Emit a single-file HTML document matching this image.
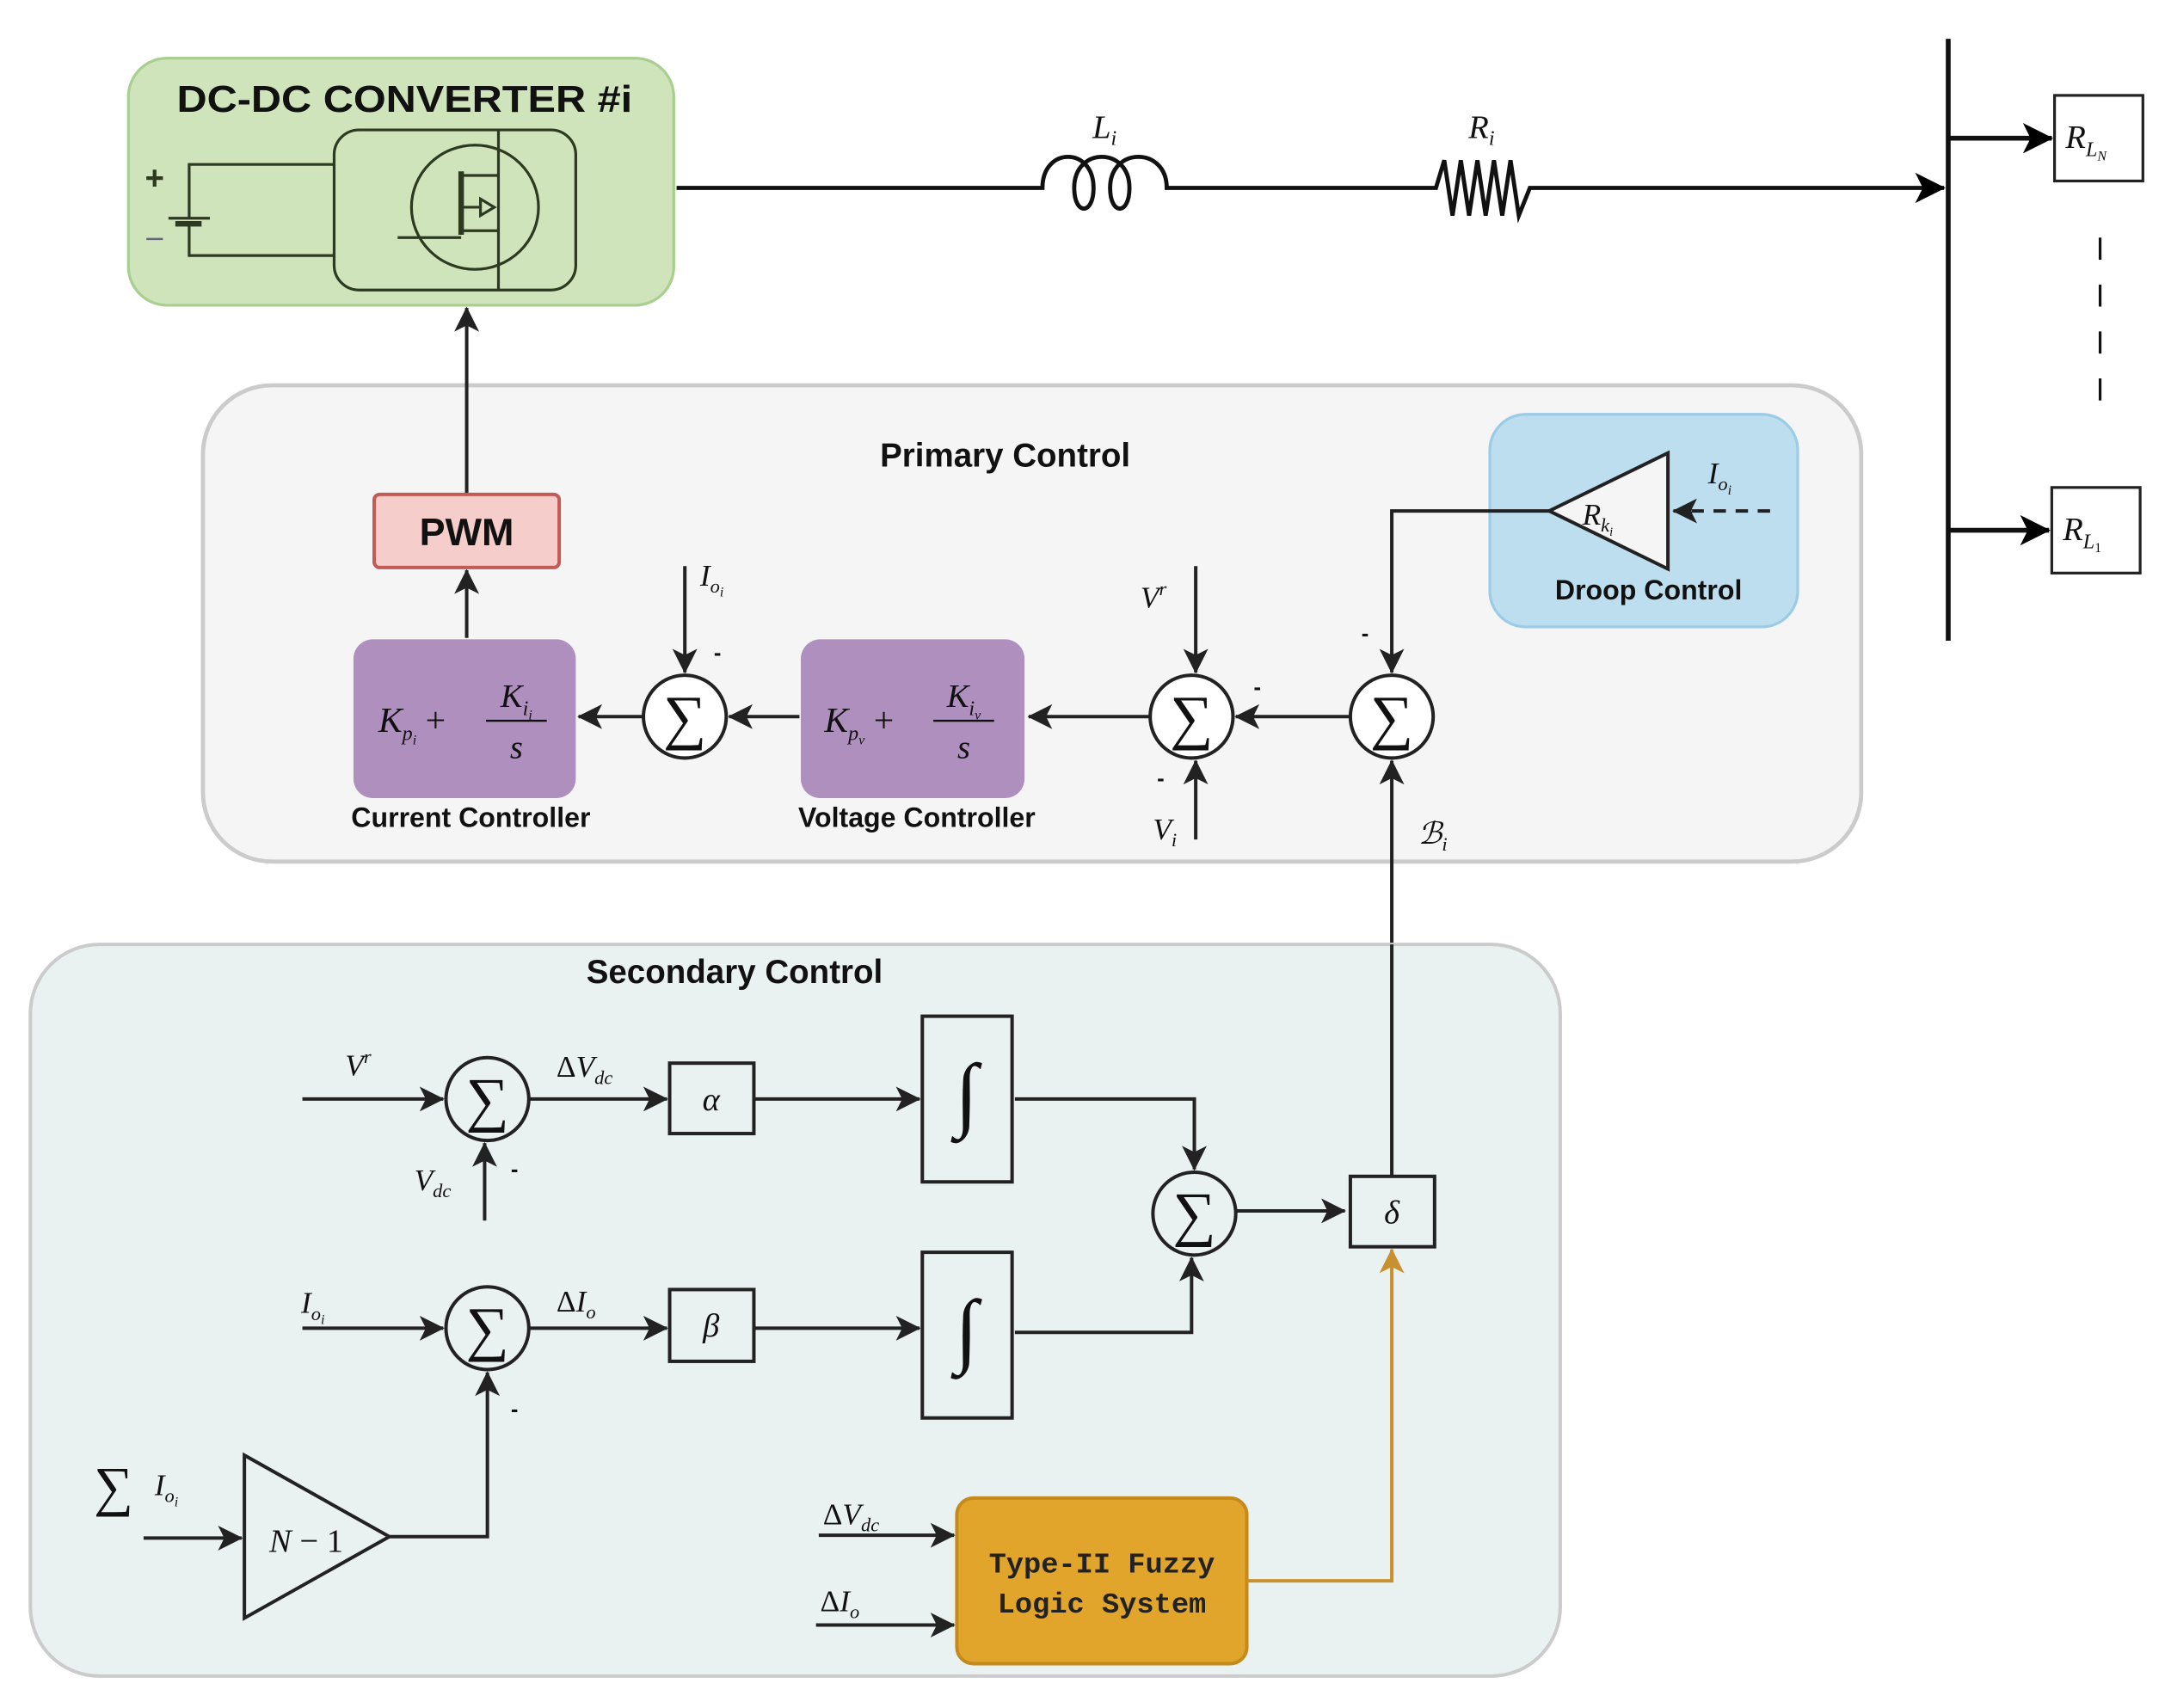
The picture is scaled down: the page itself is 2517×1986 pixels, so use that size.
<!DOCTYPE html>
<html><head><meta charset="utf-8"><style>
html,body{margin:0;padding:0;background:#fff;}
svg{display:block;}
.b{font-family:"Liberation Sans",sans-serif;font-weight:bold;fill:#111;}
.m{font-family:"Liberation Serif",serif;font-style:italic;fill:#111;}
.s{font-family:"Liberation Serif",serif;fill:#111;}
.ln{stroke:#222;stroke-width:2.5;fill:none;}
</style></head><body>
<svg width="2517" height="1986" viewBox="0 0 1568 1237" xmlns="http://www.w3.org/2000/svg">
<defs>
<marker id="a" viewBox="0 0 20 20" refX="19" refY="10" markerWidth="20" markerHeight="18" markerUnits="userSpaceOnUse" orient="auto"><path d="M0,0 L20,10 L0,20 L5,10 Z" fill="#222"/></marker>
<marker id="a2" viewBox="0 0 20 20" refX="19" refY="10" markerWidth="24" markerHeight="22" markerUnits="userSpaceOnUse" orient="auto"><path d="M0,0 L20,10 L0,20 L5,10 Z" fill="#000"/></marker>
<marker id="ao" viewBox="0 0 20 20" refX="19" refY="10" markerWidth="20" markerHeight="18" markerUnits="userSpaceOnUse" orient="auto"><path d="M0,0 L20,10 L0,20 L5,10 Z" fill="#c8902e"/></marker>
</defs>

<!-- DC-DC converter -->
<rect x="93" y="42" width="395" height="179" rx="28" fill="#d0e4bb" stroke="#a8cf90" stroke-width="2"/>
<text x="293" y="81" class="b" font-size="27" text-anchor="middle" textLength="330" lengthAdjust="spacingAndGlyphs">DC-DC CONVERTER #i</text>
<rect x="242" y="94" width="175" height="116" rx="18" fill="none" stroke="#2c3a22" stroke-width="2"/>
<ellipse cx="344" cy="150" rx="46" ry="45" fill="none" stroke="#2c3a22" stroke-width="2"/>
<path d="M242,119 H137 V158 M242,185 H137 V160 M122,158 H152" stroke="#2c3a22" stroke-width="2" fill="none"/>
<rect x="127" y="160" width="19" height="4" fill="#2c3a22"/>
<text x="105" y="137" font-family="Liberation Sans" font-weight="bold" font-size="24" fill="#2c3a22">+</text>
<path d="M106,173 H118" stroke="#667" stroke-width="1.5"/>
<path d="M361,94 V210 M361,108 V127 H335 M335,124 V170 M333,124 V170 M288,172 H334 M335,167 H360 M335,150 H348 M348,144 L358,150 L348,156 Z" stroke="#2c3a22" stroke-width="2" fill="none"/>

<!-- power line -->
<path d="M490,136 H755 C755,106 792,106 792,136 C792,156 778,156 778,136 C778,106 818,106 818,136 C818,156 804,156 804,136 C804,106 845,106 845,136 H1040 L1046,116 L1052,156 L1058,116 L1064,156 L1070,116 L1076,156 L1082,116 L1088,156 L1094,116 L1100,156 L1108,136 H1408" stroke="#111" stroke-width="3" fill="none" marker-end="url(#a2)"/>
<text x="800" y="100" class="m" font-size="24" text-anchor="middle">L<tspan font-size="15" dy="5">i</tspan></text>
<text x="1073" y="100" class="m" font-size="24" text-anchor="middle">R<tspan font-size="15" dy="5">i</tspan></text>

<!-- bus -->
<path d="M1411,28 V464" stroke="#111" stroke-width="3.5"/>
<path d="M1411,100 H1486" stroke="#111" stroke-width="3.5" marker-end="url(#a2)"/>
<path d="M1411,384 H1484" stroke="#111" stroke-width="3.5" marker-end="url(#a2)"/>
<rect x="1488" y="69" width="64" height="62" fill="#fff" stroke="#222" stroke-width="2"/>
<rect x="1486" y="353" width="64" height="62" fill="#fff" stroke="#222" stroke-width="2"/>
<text x="1496" y="107" class="m" font-size="24">R<tspan font-size="15" dy="6">L</tspan><tspan font-size="10" dy="3">N</tspan></text>
<text x="1494" y="391" class="m" font-size="24">R<tspan font-size="15" dy="6">L</tspan><tspan font-size="10" dy="3" font-style="normal">1</tspan></text>
<path d="M1521,172 V308" stroke="#111" stroke-width="2" stroke-dasharray="16,18"/>

<!-- Primary control -->
<rect x="147" y="279" width="1201" height="345" rx="50" fill="#f5f5f5" stroke="#cbcbcb" stroke-width="3"/>
<text x="728" y="338" class="b" font-size="24" text-anchor="middle">Primary Control</text>
<path d="M338,357 V223" class="ln" marker-end="url(#a)"/>
<rect x="271" y="358" width="134" height="53" rx="4" fill="#f5cdcb" stroke="#c25a55" stroke-width="2.5"/>
<text x="338" y="395" class="b" font-size="28" text-anchor="middle">PWM</text>
<path d="M338,462 V413" class="ln" marker-end="url(#a)"/>

<rect x="256" y="463" width="161" height="115" rx="14" fill="#ae8fbe"/>
<text x="274" y="530" class="m" font-size="26">K<tspan font-size="15" dy="6">p</tspan><tspan font-size="10" dy="3">i</tspan><tspan font-style="normal" dy="-9"> + </tspan></text>
<text x="374" y="512" class="m" font-size="24" text-anchor="middle">K<tspan font-size="15" dy="6">i</tspan><tspan font-size="10" dy="3">i</tspan></text>
<path d="M352,522 H396" stroke="#111" stroke-width="1.5"/>
<text x="374" y="549" class="m" font-size="24" text-anchor="middle">s</text>
<text x="341" y="599" class="b" font-size="20" text-anchor="middle">Current Controller</text>

<rect x="580" y="463" width="162" height="115" rx="14" fill="#ae8fbe"/>
<text x="597" y="530" class="m" font-size="26">K<tspan font-size="15" dy="6">p</tspan><tspan font-size="10" dy="3">v</tspan><tspan font-style="normal" dy="-9"> + </tspan></text>
<text x="698" y="512" class="m" font-size="24" text-anchor="middle">K<tspan font-size="15" dy="6">i</tspan><tspan font-size="10" dy="3">v</tspan></text>
<path d="M676,522 H720" stroke="#111" stroke-width="1.5"/>
<text x="698" y="549" class="m" font-size="24" text-anchor="middle">s</text>
<text x="664" y="599" class="b" font-size="20" text-anchor="middle">Voltage Controller</text>

<g fill="#fff" stroke="#222" stroke-width="2.5">
<circle cx="496" cy="519" r="30"/><circle cx="863" cy="519" r="30"/><circle cx="1008" cy="519" r="30"/>
</g>
<g class="s" font-size="44" text-anchor="middle">
<text x="496" y="534">∑</text><text x="863" y="534">∑</text><text x="1008" y="534">∑</text>
</g>
<path d="M466,519 H419" class="ln" marker-end="url(#a)"/>
<path d="M579,519 H528" class="ln" marker-end="url(#a)"/>
<path d="M833,519 H745" class="ln" marker-end="url(#a)"/>
<path d="M978,519 H895" class="ln" marker-end="url(#a)"/>
<path d="M496,410 V487" class="ln" marker-end="url(#a)"/>
<text x="507" y="424" class="m" font-size="22">I<tspan font-size="14" dy="5">o</tspan><tspan font-size="10" dy="3">i</tspan></text>
<text x="517" y="478" class="b" font-size="16">-</text>
<path d="M866,410 V487" class="ln" marker-end="url(#a)"/>
<text x="826" y="440" class="m" font-size="22">V<tspan font-size="14" dy="-9">r</tspan></text>
<path d="M866,608 V551" class="ln" marker-end="url(#a)"/>
<text x="835" y="608" class="m" font-size="22">V<tspan font-size="14" dy="5">i</tspan></text>
<text x="838" y="569" class="b" font-size="16">-</text>
<text x="908" y="503" class="b" font-size="16">-</text>
<path d="M1008,684 V551" class="ln" marker-end="url(#a)"/>
<text x="1027" y="611" class="m" font-size="22">ℬ<tspan font-size="14" dy="5">i</tspan></text>

<!-- Droop -->
<rect x="1079" y="300" width="223" height="154" rx="26" fill="#bcdeef" stroke="#9ccbe6" stroke-width="2"/>
<path d="M1208,328 V412 L1122,370 Z" fill="#f5f5f5" stroke="#222" stroke-width="2.5"/>
<text x="1146" y="380" class="m" font-size="22">R<tspan font-size="14" dy="5">k</tspan><tspan font-size="9" dy="3">i</tspan></text>
<text x="1194" y="434" class="b" font-size="20" text-anchor="middle">Droop Control</text>
<path d="M1282,370 H1212" stroke="#222" stroke-width="2.5" stroke-dasharray="9,7" marker-end="url(#a)"/>
<text x="1237" y="350" class="m" font-size="22">I<tspan font-size="14" dy="5">o</tspan><tspan font-size="10" dy="3">i</tspan></text>
<path d="M1122,370 H1008 V487" class="ln" marker-end="url(#a)"/>
<text x="986" y="464" class="b" font-size="16">-</text>

<!-- Secondary -->
<rect x="22" y="684" width="1108" height="530" rx="50" fill="#eaf2f1" stroke="#cbcbcb" stroke-width="2.5"/>
<text x="532" y="712" class="b" font-size="24" text-anchor="middle">Secondary Control</text>

<g fill="none" stroke="#222" stroke-width="2.5">
<circle cx="353" cy="796" r="30"/><circle cx="353" cy="962" r="30"/><circle cx="865" cy="879" r="30"/>
<rect x="485" y="770" width="61" height="51"/><rect x="485" y="934" width="61" height="52"/>
<rect x="668" y="736" width="65" height="120"/><rect x="668" y="907" width="65" height="120"/>
<rect x="978" y="852" width="61" height="51"/>
<path d="M177,1054 V1172 L282,1113 Z"/>
</g>
<g class="s" font-size="44" text-anchor="middle">
<text x="353" y="811">∑</text><text x="353" y="977">∑</text><text x="865" y="894">∑</text>
</g>
<text x="515" y="804" class="m" font-size="24" text-anchor="middle">α</text>
<text x="515" y="968" class="m" font-size="24" text-anchor="middle">β</text>
<text x="1008" y="886" class="m" font-size="24" text-anchor="middle">δ</text>
<text x="700" y="812" class="s" font-size="60" text-anchor="middle" font-style="italic">∫</text>
<text x="700" y="983" class="s" font-size="60" text-anchor="middle" font-style="italic">∫</text>
<text x="195" y="1124" class="m" font-size="24">N <tspan font-style="normal">− 1</tspan></text>

<path d="M219,796 H321" class="ln" marker-end="url(#a)"/>
<text x="250" y="779" class="m" font-size="22">V<tspan font-size="14" dy="-9">r</tspan></text>
<path d="M351,884 V828" class="ln" marker-end="url(#a)"/>
<text x="300" y="862" class="m" font-size="22">V<tspan font-size="14" dy="5">dc</tspan></text>
<text x="370" y="852" class="b" font-size="16">-</text>
<path d="M383,796 H483" class="ln" marker-end="url(#a)"/>
<text x="403" y="780" class="m" font-size="22"><tspan font-style="normal">Δ</tspan>V<tspan font-size="14" dy="5">dc</tspan></text>
<path d="M546,796 H666" class="ln" marker-end="url(#a)"/>
<path d="M735,796 H865 V847" class="ln" marker-end="url(#a)"/>
<path d="M219,962 H321" class="ln" marker-end="url(#a)"/>
<text x="218" y="951" class="m" font-size="22">I<tspan font-size="14" dy="5">o</tspan><tspan font-size="10" dy="3">i</tspan></text>
<path d="M383,962 H483" class="ln" marker-end="url(#a)"/>
<text x="403" y="950" class="m" font-size="22"><tspan font-style="normal">Δ</tspan>I<tspan font-size="14" dy="5">o</tspan></text>
<path d="M546,962 H666" class="ln" marker-end="url(#a)"/>
<path d="M735,965 H863 V911" class="ln" marker-end="url(#a)"/>
<path d="M895,877 H974" class="ln" marker-end="url(#a)"/>
<path d="M282,1113 H353 V994" class="ln" marker-end="url(#a)"/>
<text x="370" y="1026" class="b" font-size="16">-</text>
<path d="M104,1114 H175" class="ln" marker-end="url(#a)"/>
<text x="68" y="1090" class="s" font-size="40">∑</text>
<text x="112" y="1083" class="m" font-size="22">I<tspan font-size="14" dy="5">o</tspan><tspan font-size="10" dy="3">i</tspan></text>

<rect x="693" y="1085" width="210" height="120" rx="12" fill="#e0a52a" stroke="#c48a1b" stroke-width="2.5"/>
<text x="798" y="1139" font-family="Liberation Mono,monospace" font-weight="bold" font-size="21" fill="#222" text-anchor="middle">Type-II Fuzzy</text>
<text x="798" y="1168" font-family="Liberation Mono,monospace" font-weight="bold" font-size="21" fill="#222" text-anchor="middle">Logic System</text>
<path d="M593,1112 H691" class="ln" marker-end="url(#a)"/>
<text x="596" y="1104" class="m" font-size="22"><tspan font-style="normal">Δ</tspan>V<tspan font-size="14" dy="5">dc</tspan></text>
<path d="M591,1177 H691" class="ln" marker-end="url(#a)"/>
<text x="594" y="1167" class="m" font-size="22"><tspan font-style="normal">Δ</tspan>I<tspan font-size="14" dy="5">o</tspan></text>
<path d="M903,1145 H1008 V905" stroke="#c8902e" stroke-width="2.5" fill="none" marker-end="url(#ao)"/>
<path d="M1008,852 V684" class="ln"/>
</svg>
</body></html>
